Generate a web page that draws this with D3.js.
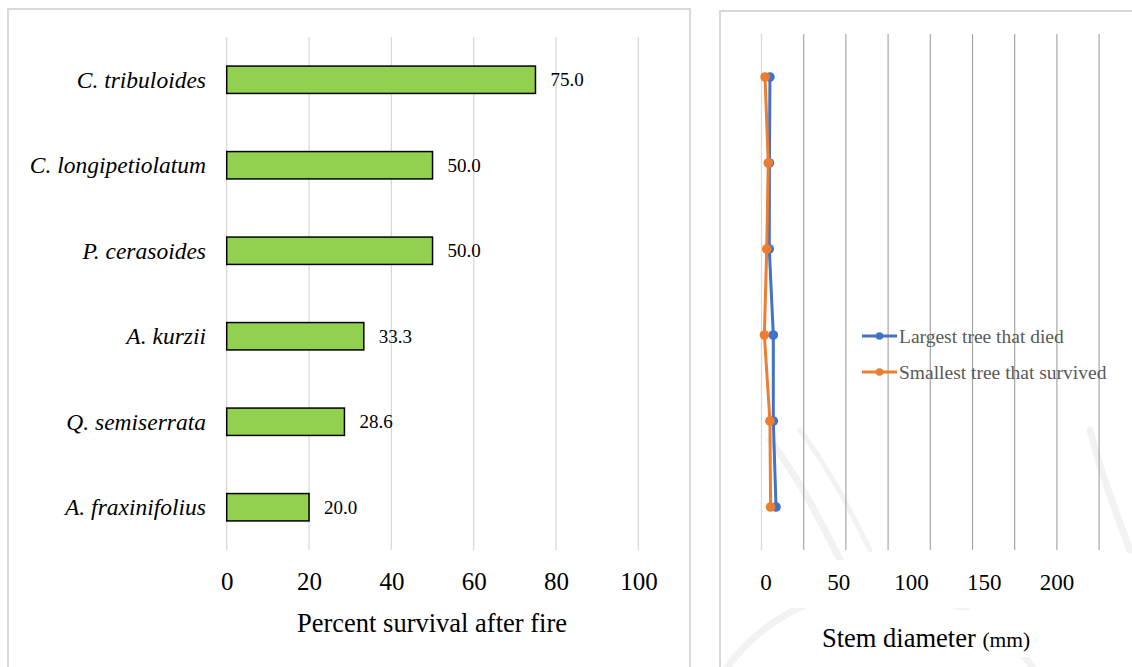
<!DOCTYPE html>
<html>
<head>
<meta charset="utf-8">
<script src="https://cdn.jsdelivr.net/npm/d3@7/dist/d3.min.js"></script>
<style>
  html, body { margin: 0; padding: 0; background: #fff; }
  svg { display: block; }
</style>
</head>
<body>
<svg id="chart" width="1132" height="667"></svg>
<script>
// Species, top to bottom
const species = ["C. tribuloides", "C. longipetiolatum", "P. cerasoides", "A. kurzii", "Q. semiserrata", "A. fraxinifolius"];
// Percent survival after fire
const survival = [75.0, 50.0, 50.0, 33.3, 28.6, 20.0];
const survivalTicks = [0, 20, 40, 60, 80, 100];

// Stem diameter (mm) per species
const largestDied = [5.0, 4.7, 4.6, 7.0, 7.0, 8.6];
const smallestSurvived = [2.1, 4.0, 3.1, 1.7, 5.0, 5.4];
const gridSteps = [0, 25, 50, 75, 100, 125, 150, 175, 200];
const diameterTicks = [0, 50, 100, 150, 200];
const seriesNames = ["Largest tree that died", "Smallest tree that survived"];
const seriesColors = ["#4472C4", "#ED7D31"];

const SERIF = "Liberation Serif";
const svg = d3.select("#chart");

// ---------- panel frames ----------
svg.append("rect").attr("x", 8).attr("y", 9).attr("width", 682).attr("height", 680)
  .attr("fill", "#fff").attr("stroke", "#d9d9d9").attr("stroke-width", 2);
svg.append("rect").attr("x", 720).attr("y", 11).attr("width", 430).attr("height", 680)
  .attr("fill", "#fff").attr("stroke", "#d9d9d9").attr("stroke-width", 2);

// faint seal print behind the right panel
const defs = svg.append("defs");
defs.append("clipPath").attr("id", "rclip").append("rect")
  .attr("x", 721).attr("y", 12).attr("width", 420).attr("height", 660);
const seal = svg.append("g").attr("clip-path", "url(#rclip)")
  .attr("fill", "none").attr("stroke", "#f2f2f2").attr("stroke-linecap", "round");
seal.append("circle").attr("cx", 880).attr("cy", 780).attr("r", 190).attr("stroke-width", 7);
seal.append("path").attr("d", "M770,440 C800,480 820,520 840,560").attr("stroke-width", 7);
seal.append("path").attr("d", "M800,430 C830,470 850,510 870,550").attr("stroke-width", 5);
seal.append("path").attr("d", "M1090,430 C1100,470 1115,510 1130,550").attr("stroke-width", 7);

// ---------- left: percent survival bar chart ----------
const xL = d3.scaleLinear().domain([0, 100]).range([226.7, 638.4]);
const yL = d3.scaleBand().domain(species).range([37, 550]).paddingInner(0.68).paddingOuter(0.34);

const left = svg.append("g");
left.append("g").selectAll("line").data(survivalTicks).join("line")
  .attr("x1", d => xL(d)).attr("x2", d => xL(d))
  .attr("y1", 37).attr("y2", 550)
  .attr("stroke", "#d9d9d9").attr("stroke-width", 1.3);

left.append("g").selectAll("rect").data(species).join("rect")
  .attr("x", xL(0))
  .attr("y", d => yL(d))
  .attr("width", (d, i) => xL(survival[i]) - xL(0))
  .attr("height", yL.bandwidth())
  .attr("fill", "#92D050").attr("stroke", "#000").attr("stroke-width", 1.5);

left.append("g").selectAll("text").data(species).join("text")
  .attr("x", (d, i) => xL(survival[i]) + 15)
  .attr("y", d => yL(d) + yL.bandwidth() / 2)
  .attr("dy", "0.35em")
  .attr("font-family", SERIF).attr("font-size", 19).attr("fill", "#000")
  .text((d, i) => survival[i].toFixed(1));

left.append("g").selectAll("text").data(species).join("text")
  .attr("x", 206)
  .attr("y", d => yL(d) + yL.bandwidth() / 2)
  .attr("dy", "0.35em")
  .attr("text-anchor", "end")
  .attr("font-family", SERIF).attr("font-size", 23.5).attr("font-style", "italic").attr("fill", "#000")
  .text(d => d);

const axL = left.append("g").attr("transform", "translate(0,550)")
  .call(d3.axisBottom(xL).tickValues(survivalTicks).tickSize(0).tickPadding(22).tickFormat(d3.format("d")));
axL.select(".domain").remove();
axL.selectAll("text").attr("font-size", 25).attr("fill", "#000").attr("font-family", SERIF);

left.append("text").attr("x", 432).attr("y", 632).attr("text-anchor", "middle")
  .attr("font-family", SERIF).attr("font-size", 26.5).attr("fill", "#000").text("Percent survival after fire");

// ---------- right: stem diameter line chart ----------
const xR = d3.scaleLinear().domain([0, 200]).range([761.5, 1099.1]);
const xLab = d3.scaleLinear().domain([0, 200]).range([765.5, 1056.5]);
const yR = d3.scaleBand().domain(species).range([34, 550]);
const yC = d => yR(d) + yR.bandwidth() / 2;

const right = svg.append("g");
right.append("g").selectAll("line").data(gridSteps).join("line")
  .attr("x1", d => xR(d)).attr("x2", d => xR(d))
  .attr("y1", 34).attr("y2", 550)
  .attr("stroke", d => d === 0 ? "#d9d9d9" : "#a6a6a6").attr("stroke-width", 1.2);

// label strip under the plot
right.append("rect").attr("x", 740).attr("y", 560).attr("width", 350).attr("height", 48).attr("fill", "#fff");
right.append("rect").attr("x", 802).attr("y", 610).attr("width", 240).attr("height", 47).attr("fill", "#fff");

const axR = right.append("g").attr("transform", "translate(0,550)")
  .call(d3.axisBottom(xLab).tickValues(diameterTicks).tickSize(0).tickPadding(24).tickFormat(d3.format("d")));
axR.select(".domain").remove();
axR.selectAll("text").attr("font-size", 23).attr("fill", "#000").attr("font-family", SERIF);

const title = right.append("text").attr("x", 822).attr("y", 647).attr("fill", "#000").attr("font-family", SERIF);
title.append("tspan").attr("font-size", 26.5).text("Stem diameter ");
title.append("tspan").attr("font-size", 21.5).text("(mm)");

const series = [largestDied, smallestSurvived];
const line = d3.line().x(d => xR(d[0])).y(d => yC(d[1]));
series.forEach((vals, s) => {
  const pts = vals.map((v, i) => [v, species[i]]);
  const g = right.append("g");
  g.append("path").datum(pts).attr("d", line)
    .attr("fill", "none").attr("stroke", seriesColors[s]).attr("stroke-width", 3)
    .attr("stroke-linejoin", "round");
  g.selectAll("circle").data(pts).join("circle")
    .attr("cx", d => xR(d[0])).attr("cy", d => yC(d[1])).attr("r", 4.8)
    .attr("fill", seriesColors[s]);
});

// legend
const leg = right.append("g");
seriesNames.forEach((name, s) => {
  const y = 336 + s * 36;
  leg.append("line").attr("x1", 862).attr("x2", 897).attr("y1", y).attr("y2", y)
    .attr("stroke", seriesColors[s]).attr("stroke-width", 3);
  leg.append("circle").attr("cx", 879.5).attr("cy", y).attr("r", 3.8).attr("fill", seriesColors[s]);
  leg.append("text").attr("x", 899).attr("y", y).attr("dy", "0.35em")
    .attr("font-family", SERIF).attr("font-size", 19.5).attr("fill", "#595959").text(name);
});
</script>
</body>
</html>
